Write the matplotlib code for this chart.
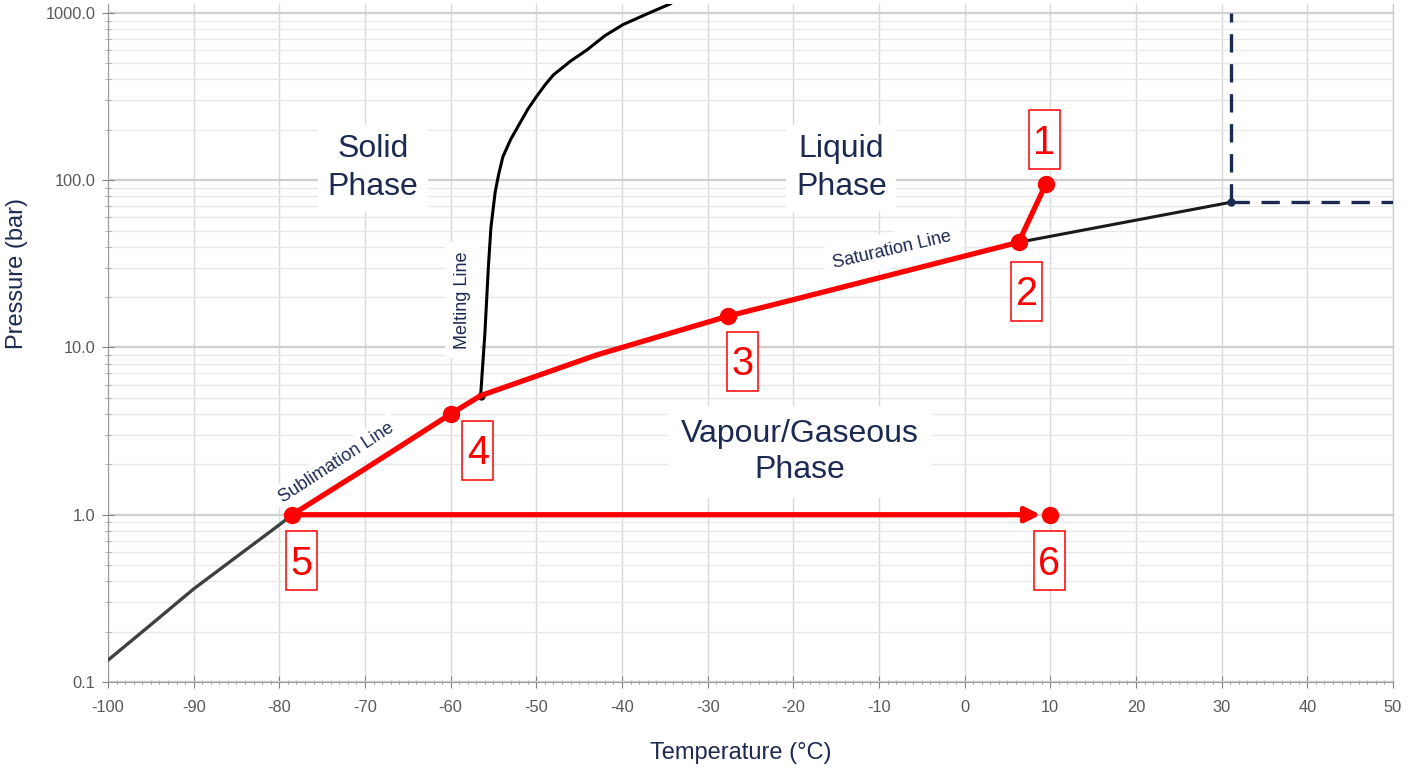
import matplotlib
matplotlib.use("Agg")
import matplotlib.pyplot as plt
import numpy as np
from matplotlib.ticker import MultipleLocator, LogLocator, FixedLocator, NullFormatter
from matplotlib.offsetbox import AnnotationBbox, DrawingArea
from matplotlib.patches import Rectangle
from matplotlib.text import Text

plt.rcParams["font.family"] = ["Liberation Sans", "DejaVu Sans"]

# CO2 phase boundaries (temperature in degC, pressure in bar)
sub_T = [-100, -95, -90, -85, -80, -78.5, -70, -60, -56.5]
sub_P = [0.135, 0.22, 0.36, 0.56, 0.87, 1.0, 1.88, 4.0, 5.15]

sat_T = [-56.5, -43, -27.6, -20, 6.3, 31.1]
sat_P = [5.15, 9.0, 15.4, 19.3, 42.5, 73.8]

melt_T = [-56.5, -56.0, -55.6, -55.3, -54.8, -54.4, -53.9, -53.0, -51.9, -51.0, -50.0,
          -49.0, -48.0, -46.0, -44.1, -42.0, -39.9, -37.0, -34.4, -33.0]
melt_P = [5.15, 12.2, 30, 52, 85, 108, 138, 175, 220, 265, 315,
          370, 426, 515, 600, 730, 850, 990, 1130, 1250]

triple_T, triple_P = -56.5, 5.15
crit_T, crit_P = 31.1, 73.8

# cycle states 1..6
state_labels = ["1", "2", "3", "4", "5", "6"]
state_T = [9.5, 6.3, -27.6, -60, -78.5, 10]
state_P = [95, 42.5, 15.4, 4.0, 1.0, 1.0]
# label box offsets from each state point, in pixels (dx right, dy down)
label_off = [(-2, -44), (8, 49), (14, 45), (27, 36), (9, 46), (-1, 46)]

xticks = list(range(-100, 51, 10))
yticks = [0.1, 1.0, 10.0, 100.0, 1000.0]

NAVY = "#1c2a52"
RED = "#ff0000"
GRID = "#d9d9d9"

fig = plt.figure(figsize=(14.08, 7.7), dpi=100)
ax = fig.add_axes([0.0767, 0.1143, 0.9126, 0.8805])
ax.set_yscale("log")
ax.set_xlim(-100, 50)
ax.set_ylim(0.1, 1130)

# grid
ax.xaxis.set_major_locator(FixedLocator(xticks))
ax.xaxis.set_minor_locator(MultipleLocator(1))
ax.yaxis.set_major_locator(FixedLocator(yticks))
ax.yaxis.set_minor_locator(LogLocator(base=10, subs=np.arange(2, 10)))
ax.yaxis.set_minor_formatter(NullFormatter())
ax.set_yticklabels([f"{v:.1f}" for v in yticks])
ax.set_xticklabels([str(v) for v in xticks])
ax.grid(True, which="major", axis="x", color=GRID, lw=1.0, zorder=0)
ax.grid(True, which="major", axis="y", color="#cfcfcf", lw=1.6, zorder=0)
ax.grid(True, which="minor", axis="y", color="#e8e8e8", lw=1.0, zorder=0)
ax.set_axisbelow(True)

ax.spines["top"].set_visible(False)
ax.spines["right"].set_color("#c8c8c8")
ax.spines["left"].set_color("#9a9a9a")
ax.spines["bottom"].set_color("#9a9a9a")
ax.tick_params(axis="both", which="major", direction="inout", length=8, color="#808080",
               labelsize=11.8, labelcolor="#595959")
ax.tick_params(axis="x", which="minor", direction="inout", length=3, color="#808080")
ax.tick_params(axis="y", which="minor", direction="inout", length=5, color="#a0a0a0")
ax.tick_params(axis="x", which="major", pad=9)
ax.tick_params(axis="y", which="major", pad=5)

# phase boundary curves
ax.plot(sub_T, sub_P, color="#404040", lw=2.4, zorder=3, solid_capstyle="round")
ax.plot(sat_T, sat_P, color="#1a1a1a", lw=2.2, zorder=3)
ax.plot(melt_T, melt_P, color="#000000", lw=2.2, zorder=3)
ax.plot([triple_T], [triple_P], "o", color="#111111", ms=5, zorder=4)

# critical point guides
ax.plot([crit_T, crit_T], [crit_P, 1000], color=NAVY, lw=2.4, dashes=(5.5, 3.5), zorder=3)
ax.plot([crit_T, 50], [crit_P, crit_P], color=NAVY, lw=2.4, dashes=(5.5, 3.5), zorder=3)
ax.plot([crit_T], [crit_P], "o", color=NAVY, ms=5, zorder=4)

# refrigeration path 1 -> 2 -> 3 -> 4 -> 5 following the boundaries
path_T = [state_T[0]]
path_P = [state_P[0]]
for t, p in sorted(zip(sat_T, sat_P), reverse=True):
    if state_T[1] >= t >= triple_T:
        path_T.append(t)
        path_P.append(p)
for t, p in sorted(zip(sub_T, sub_P), reverse=True):
    if triple_T > t >= state_T[4]:
        path_T.append(t)
        path_P.append(p)
ax.plot(path_T, path_P, color=RED, lw=3.8, zorder=5, solid_capstyle="round")

# 5 -> 6 heating arrow
ax.annotate("", xy=(state_T[5], state_P[5]), xytext=(state_T[4], state_P[4]),
            arrowprops=dict(arrowstyle="-|>", color=RED, lw=3.8, mutation_scale=22,
                            shrinkA=0, shrinkB=7), zorder=5)
ax.plot(state_T, state_P, "o", color=RED, ms=11.5, zorder=6)

# boxed state numbers (box 31 x 59 px)
px = 72 / fig.dpi
box_w, box_h = 31 * px, 59 * px
num_size = 28.5
for lab, t, p, (dx, dy) in zip(state_labels, state_T, state_P, label_off):
    da = DrawingArea(box_w, box_h, 0, 0)
    da.add_artist(Rectangle((0, 0), box_w, box_h, fc="white", ec=RED, lw=1.1))
    da.add_artist(Text(box_w / 2, box_h / 2 - num_size * 0.716 / 2, lab, ha="center",
                       va="baseline", fontsize=num_size, color=RED))
    ab = AnnotationBbox(da, (t, p), xybox=(dx * px, -dy * px), boxcoords="offset points",
                        frameon=False, pad=0, box_alignment=(0.5, 0.5), zorder=7)
    ax.add_artist(ab)

# region and curve labels
box = dict(boxstyle="square,pad=0.3", fc="white", ec="none")
ax.text(-69.1, 118, "Solid\nPhase", ha="center", va="center", fontsize=23, color=NAVY,
        linespacing=1.35, bbox=box, zorder=2)
ax.text(-14.4, 118, "Liquid\nPhase", ha="center", va="center", fontsize=23, color=NAVY,
        linespacing=1.35, bbox=box, zorder=2)
ax.text(-19.2, 2.37, "Vapour/Gaseous\nPhase", ha="center", va="center", fontsize=23,
        color=NAVY, linespacing=1.3, bbox=dict(boxstyle="square,pad=0.4", fc="white", ec="none"),
        zorder=2)
small_box = dict(boxstyle="square,pad=0.5", fc="white", ec="none")
ax.text(-58.6, 19.2, "Melting Line", rotation=90, ha="center", va="center", fontsize=13,
        color=NAVY, bbox=small_box, zorder=2, rotation_mode="anchor")
ax.text(-8.5, 38.3, "Saturation Line", rotation=13, ha="center", va="center", fontsize=13,
        color=NAVY, bbox=small_box, zorder=2, rotation_mode="anchor")
ax.text(-73.3, 2.04, "Sublimation Line", rotation=33, ha="center", va="center", fontsize=13,
        color=NAVY, bbox=dict(boxstyle="square,pad=0.3", fc="white", ec="none"), zorder=2,
        rotation_mode="anchor")

ax.set_xlabel("Temperature (°C)", fontsize=17, color=NAVY)
ax.set_ylabel("Pressure (bar)", fontsize=17, color=NAVY)
ax.xaxis.set_label_coords(0.4926, -0.088)
ax.yaxis.set_label_coords(-0.062, 0.603)

fig.savefig("out.png", dpi=100, facecolor="white")
